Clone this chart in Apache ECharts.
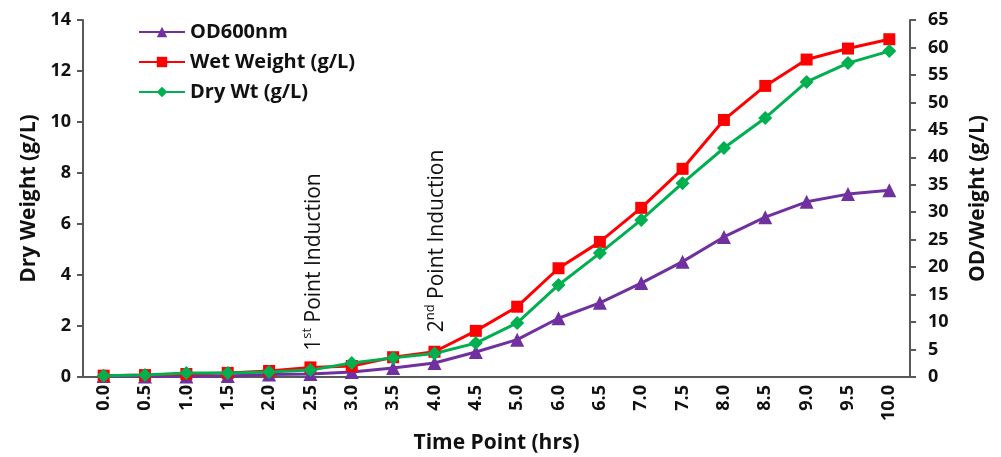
<!DOCTYPE html>
<html>
<head>
<meta charset="utf-8">
<script src="https://cdn.jsdelivr.net/npm/echarts@6/dist/echarts.min.js"></script>
<style>
  html, body { margin: 0; padding: 0; background: #fff; }
  #chart { width: 1001px; height: 457px; }
</style>
</head>
<body>
<div id="chart"></div>
<script>
// time points (5.5 was not sampled)
var timePoints = ['0.0','0.5','1.0','1.5','2.0','2.5','3.0','3.5','4.0','4.5','5.0',
                  '6.0','6.5','7.0','7.5','8.0','8.5','9.0','9.5','10.0'];
// right axis
var od600 = [0.2,0.1,0.1,0.2,0.45,0.55,0.9,1.65,2.55,4.55,6.8,
             10.7,13.5,17.1,21.0,25.5,29.1,31.9,33.3,34.0];
var wetWeight = [0.25,0.35,0.55,0.75,1.1,1.75,2.0,3.6,4.6,8.4,12.8,
                 19.8,24.6,30.8,37.9,46.8,53.0,57.8,59.8,61.5];
// left axis
var dryWt = [0.05,0.08,0.16,0.16,0.2,0.27,0.55,0.75,0.92,1.33,2.12,
             3.61,4.86,6.16,7.6,8.98,10.16,11.57,12.31,12.78];
var leftMax = 14, leftStep = 2;
var rightMax = 65, rightStep = 5;

var font = '"Open Sans", sans-serif';
var axisColor = '#595959';
var labelStyle = { color: '#111', fontFamily: font, fontWeight: 'bold', fontSize: 18 };
var titleStyle = { color: '#111', fontFamily: font, fontWeight: 'bold', fontSize: 21 };

var myChart = echarts.init(document.getElementById('chart'));
var option = {
  animation: false,
  backgroundColor: '#fff',
  grid: { left: 83, right: 91, top: 20, bottom: 80, outerBoundsMode: 'none' },
  legend: {
    orient: 'vertical',
    left: 133,
    top: 17,
    itemWidth: 46,
    itemHeight: 13,
    itemGap: 10,
    textStyle: { color: '#111', fontFamily: font, fontWeight: 'bold', fontSize: 20 },
    data: ['OD600nm', 'Wet Weight (g/L)', 'Dry Wt (g/L)']
  },
  xAxis: {
    type: 'category',
    data: timePoints,
    boundaryGap: true,
    name: 'Time Point (hrs)',
    nameLocation: 'middle',
    nameGap: 56,
    nameTextStyle: titleStyle,
    axisLine: { lineStyle: { color: axisColor, width: 2 } },
    axisTick: { alignWithLabel: false, length: 6, lineStyle: { color: axisColor, width: 2 } },
    axisLabel: Object.assign({ rotate: 90, margin: 8, interval: 0 }, labelStyle)
  },
  yAxis: [
    {
      type: 'value',
      min: 0, max: leftMax, interval: leftStep,
      name: 'Dry Weight (g/L)',
      nameLocation: 'middle',
      nameGap: 43,
      nameTextStyle: titleStyle,
      splitLine: { show: false },
      axisLine: { show: true, lineStyle: { color: axisColor, width: 2 } },
      axisTick: { show: true, length: 6, lineStyle: { color: axisColor, width: 2 } },
      axisLabel: Object.assign({ margin: 12 }, labelStyle)
    },
    {
      type: 'value',
      min: 0, max: rightMax, interval: rightStep,
      name: 'OD/Weight (g/L)',
      nameLocation: 'middle',
      nameGap: 58,
      nameRotate: 90,
      nameTextStyle: titleStyle,
      splitLine: { show: false },
      axisLine: { show: true, lineStyle: { color: axisColor, width: 2 } },
      axisTick: { show: true, length: 6, lineStyle: { color: axisColor, width: 2 } },
      axisLabel: Object.assign({ margin: 18 }, labelStyle)
    }
  ],
  series: [
    {
      name: 'OD600nm',
      type: 'line',
      yAxisIndex: 1,
      data: od600,
      symbol: 'triangle',
      symbolSize: 14,
      color: '#7030A0',
      lineStyle: { width: 3 }
    },
    {
      name: 'Wet Weight (g/L)',
      type: 'line',
      yAxisIndex: 1,
      data: wetWeight,
      symbol: 'rect',
      symbolSize: 12,
      color: '#FF0000',
      lineStyle: { width: 3 }
    },
    {
      name: 'Dry Wt (g/L)',
      type: 'line',
      yAxisIndex: 0,
      data: dryWt,
      symbol: 'diamond',
      symbolSize: 14,
      color: '#00B050',
      lineStyle: { width: 3 }
    }
  ],
  // the two induction notes, written upward
  graphic: [
    {
      type: 'text',
      x: 313, y: 262,
      rotation: Math.PI / 2,
      style: {
        text: '{a|1}{s|st}{a| Point Induction}',
        align: 'center',
        verticalAlign: 'middle',
        rich: {
          a: { fontFamily: font, fontSize: 21, fill: '#111', lineHeight: 24, verticalAlign: 'bottom' },
          s: { fontFamily: font, fontSize: 13, fill: '#111', lineHeight: 24, verticalAlign: 'top' }
        }
      }
    },
    {
      type: 'text',
      x: 436, y: 241,
      rotation: Math.PI / 2,
      style: {
        text: '{a|2}{s|nd}{a| Point Induction}',
        align: 'center',
        verticalAlign: 'middle',
        rich: {
          a: { fontFamily: font, fontSize: 21, fill: '#111', lineHeight: 24, verticalAlign: 'bottom' },
          s: { fontFamily: font, fontSize: 13, fill: '#111', lineHeight: 24, verticalAlign: 'top' }
        }
      }
    }
  ]
};
myChart.setOption(option);
</script>
</body>
</html>
